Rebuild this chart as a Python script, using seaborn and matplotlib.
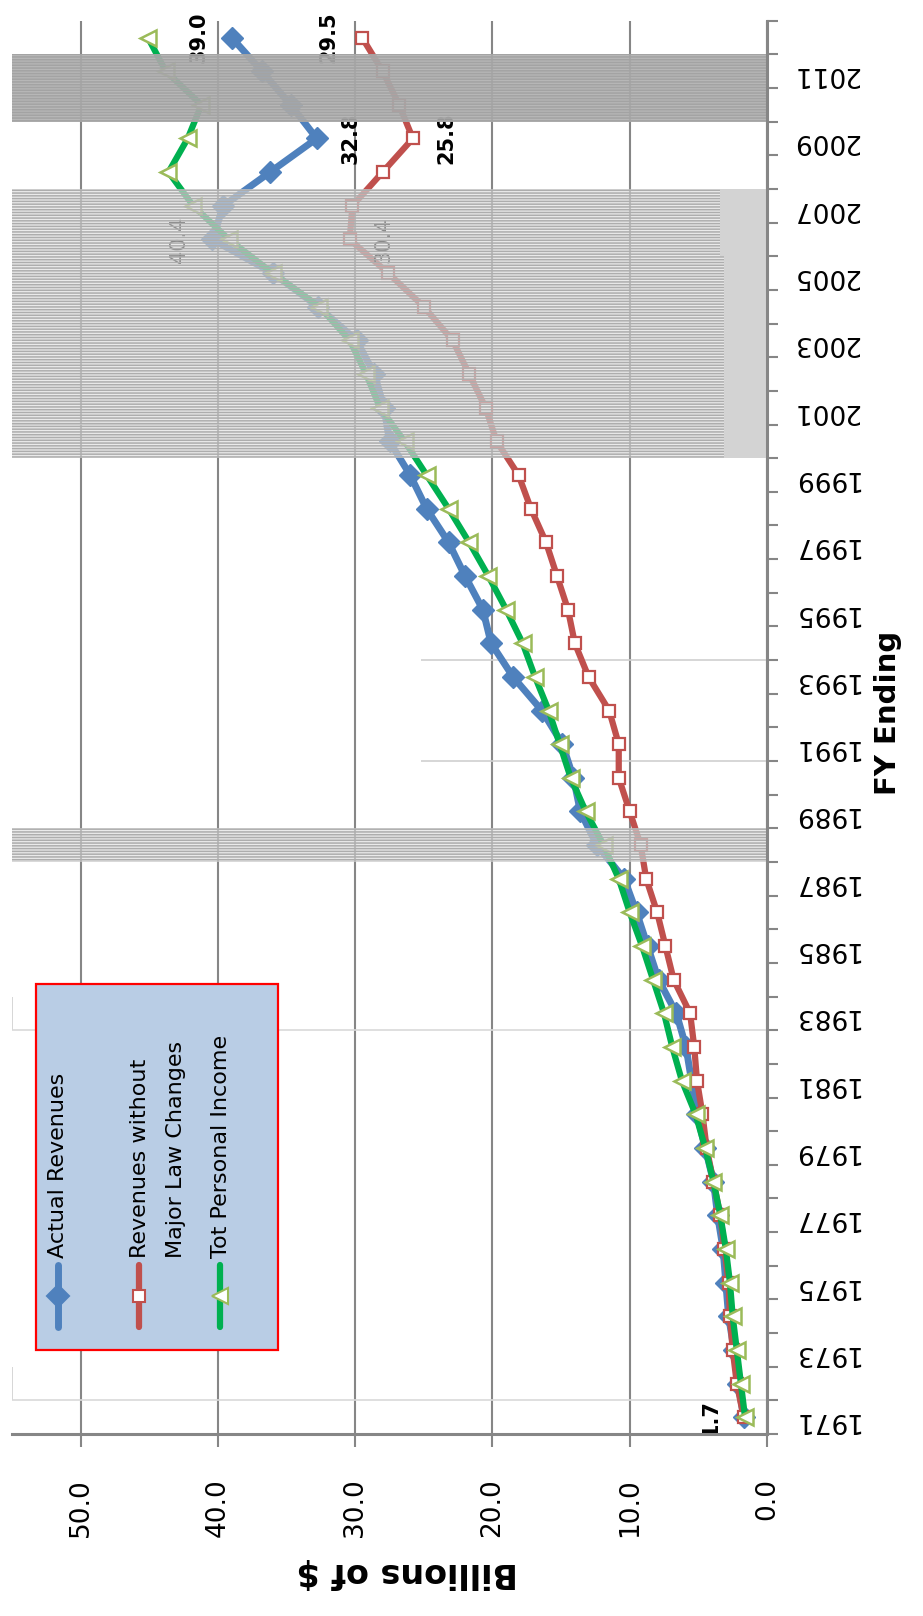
import numpy as np
import pandas as pd
import matplotlib
matplotlib.use("Agg")
import matplotlib.pyplot as plt
from matplotlib.patches import Rectangle
from matplotlib.lines import Line2D
import seaborn as sns

# ---------------- data ----------------
years = list(range(1971, 2013))
actual_revenues = [1.7, 2.1, 2.4, 2.8, 3.0, 3.2, 3.6, 3.9, 4.5, 5.1,
                   5.5, 5.9, 6.6, 7.9, 8.7, 9.5, 10.4, 12.4, 13.6, 14.1,
                   14.9, 16.4, 18.5, 20.1, 20.7, 22.0, 23.2, 24.8, 26.0, 27.5,
                   27.9, 28.6, 29.9, 32.7, 36.0, 40.4, 39.6, 36.2, 32.8, 34.7,
                   36.8, 39.0]
revenues_no_law = [1.7, 2.2, 2.5, 2.7, 2.8, 3.1, 3.4, 3.9, 4.4, 4.7,
                   5.1, 5.3, 5.6, 6.8, 7.4, 8.0, 8.8, 9.2, 10.0, 10.8,
                   10.8, 11.5, 13.0, 14.0, 14.5, 15.3, 16.1, 17.2, 18.1, 19.7,
                   20.5, 21.7, 22.9, 25.0, 27.6, 30.4, 30.2, 28.0, 25.8, 26.8,
                   28.0, 29.5]
personal_income = [1.6, 1.9, 2.2, 2.5, 2.7, 3.0, 3.4, 3.9, 4.5, 5.2,
                    6.2, 6.9, 7.5, 8.3, 9.1, 10.0, 10.8, 11.9, 13.2, 14.3,
                    15.1, 15.9, 16.9, 17.8, 19.0, 20.3, 21.7, 23.2, 24.8, 26.4,
                    28.2, 29.2, 30.4, 32.6, 36.0, 39.2, 41.8, 43.6, 42.2, 41.2,
                    43.8, 45.1]
series_names = ["Actual Revenues", "Revenues without\nMajor Law Changes", "Tot Personal Income"]

# shaded periods (bars on a hidden secondary scale)
shade_years = [1988, 2000, 2001, 2002, 2003, 2004, 2005, 2006, 2007]
shade_floor = [0.0, 3.1, 3.1, 3.1, 3.1, 3.1, 3.1, 3.4, 3.4]
dark_shade_years = [2010, 2011]
outline_years = [1972, 1983]
outline_box_years = [1991, 1992, 1993]
outline_box_value = 25.2
shade_top = 55.0

# data labels: (series index, year, side)
label_points = [(0, 2012, "left"), (1, 2012, "left"), (0, 2009, "right"),
                (1, 2009, "right"), (0, 2006, "left"), (1, 2006, "right"),
                (0, 1971, "left")]

value_ticks = [0, 10, 20, 30, 40, 50]
year_labels = list(range(1971, 2012, 2))

# ---------------- style ----------------
BLUE = "#4F81BD"
RED = "#C0504D"
GREEN = "#00B050"
GREEN_EDGE = "#9BBB59"
GREY = "#868686"

sns.set_theme(style="white")
plt.rcParams["font.family"] = ["DejaVu Sans"]
plt.rcParams["hatch.linewidth"] = 1.1

W, H = 923, 1616
fig = plt.figure(figsize=(W / 100, H / 100), dpi=100)


def fx(px):
    return px / W


def fy(py):
    return 1 - py / H


ax = fig.add_axes([fx(12), fy(1434), fx(767) - fx(12), fy(20.7) - fy(1434)])
ax.set_facecolor("white")

df = pd.DataFrame({"year": years, "actual": actual_revenues,
                   "nolaw": revenues_no_law, "tpi": personal_income})

# faint outline edges
for yr in outline_years:
    ax.vlines(shade_top, yr - 0.5, yr + 0.5, color="#D0D0D0", lw=1.2, zorder=1)
    ax.hlines(yr - 0.5, 0, shade_top, color="#D9D9D9", lw=1.2, zorder=1)
ax.hlines([outline_box_years[0] - 0.5, outline_box_years[-1] + 0.5], 0, outline_box_value,
          color="#CFCFCF", lw=1.2, zorder=1.1)

# lines
sns.lineplot(data=df, x="actual", y="year", orient="y", ax=ax, color=BLUE, lw=5,
             marker="D", markersize=11, mfc=BLUE, mec=BLUE, mew=1, zorder=3)
sns.lineplot(data=df, x="nolaw", y="year", orient="y", ax=ax, color=RED, lw=4.5,
             marker="s", markersize=9, mfc="white", mec=RED, mew=1.6, zorder=3.2)
sns.lineplot(data=df, x="tpi", y="year", orient="y", ax=ax, color=GREEN, lw=4.5,
             marker="<", markersize=12, mfc="white", mec=GREEN_EDGE, mew=1.8, zorder=3.4)

# data labels
series_vals = [actual_revenues, revenues_no_law, personal_income]
for si, yr, side in label_points:
    v = series_vals[si][years.index(yr)]
    dx = -24 if side == "left" else 24
    bold = "bold" if yr != 2006 else "normal"
    ax.annotate(f"{v:.1f}", (v, yr), xytext=(dx, 0), textcoords="offset points",
                rotation=90, ha="center", va="center", fontsize=15,
                fontweight=bold, color="black", zorder=4, annotation_clip=False,
                clip_on=(yr == years[0]))

# shaded bands (on top, striped so the lines show faintly between the stripes)
for yr, fl in zip(shade_years, shade_floor):
    ax.barh(yr, shade_top - fl, left=fl, height=1.0, facecolor=(0.87, 0.87, 0.87, 0.62),
            edgecolor=(0.68, 0.68, 0.68, 1.0), hatch="------", linewidth=0,
            antialiased=False, zorder=5)
    if fl > 0:
        ax.barh(yr, fl, left=0, height=1.0, color="#D3D3D3", linewidth=0,
                antialiased=False, zorder=5)
for yr in dark_shade_years:
    ax.barh(yr, shade_top, left=0, height=1.0, facecolor=(0.68, 0.68, 0.68, 0.88),
            edgecolor=(0.64, 0.64, 0.64, 1.0), hatch="------", linewidth=0,
            antialiased=False, zorder=5)

# axes
ax.set_xlim(55, 0)
ax.set_ylim(1970.5, 2012.5)
ax.set_xlabel("")
ax.set_ylabel("")
ax.set_xticks(value_ticks)
ax.set_xticklabels([f"{v:.1f}" for v in value_ticks], rotation=90)
ax.tick_params(axis="x", bottom=True, length=9, width=1.5, color=GREY,
               pad=23, labelsize=19, labelcolor="black")
ax.xaxis.grid(True, color=GREY, lw=1.5)
ax.yaxis.grid(False)
ax.set_axisbelow(True)

ax.yaxis.tick_right()
ax.set_yticks(np.arange(1970.5, 2013, 1.0))
ax.set_yticklabels([])
ax.set_yticks(year_labels, minor=True)
ax.set_yticklabels([str(y) for y in year_labels], minor=True, rotation=180)
ax.tick_params(axis="y", which="major", right=True, length=8, width=1.5, color=GREY)
ax.tick_params(axis="y", which="minor", right=True, length=0, pad=18,
               labelsize=19, labelcolor="black")

for s in ["top", "left"]:
    ax.spines[s].set_visible(False)
for s in ["right", "bottom"]:
    ax.spines[s].set_color(GREY)
    ax.spines[s].set_linewidth(2.2)
    ax.spines[s].set_zorder(6)

# axis titles
fig.text(fx(407), fy(1573), "Billions of $", rotation=180, ha="center", va="center",
         fontsize=24, fontweight="bold", color="black")
fig.text(fx(888), fy(713), "FY Ending", rotation=90, ha="center", va="center",
         fontsize=21, fontweight="bold", color="black")

# legend (rotated, drawn by hand)
fig.add_artist(Rectangle((fx(36), fy(1350)), fx(278) - fx(36), fy(984) - fy(1350),
                         transform=fig.transFigure, facecolor="#B9CDE5",
                         edgecolor="#FF0000", lw=1.6, zorder=10))
handles = [(58, BLUE, "D", BLUE, BLUE, 11, 5),
           (139, RED, "s", "white", RED, 8, 4.5),
           (220, GREEN, "<", "white", GREEN_EDGE, 11, 4.5)]
for xh, c, m, mfc, mec, ms, lw in handles:
    fig.add_artist(Line2D([fx(xh), fx(xh)], [fy(1265), fy(1327)], transform=fig.transFigure,
                          color=c, lw=lw, solid_capstyle="round", zorder=11))
    fig.add_artist(Line2D([fx(xh)], [fy(1296)], transform=fig.transFigure, marker=m,
                          ms=ms, mfc=mfc, mec=mec, mew=1.5, lw=0, zorder=12))
legend_lines = [(58, series_names[0]),
                (140, series_names[1].split("\n")[0]),
                (176, series_names[1].split("\n")[1]),
                (221, series_names[2])]
for xt, t in legend_lines:
    fig.text(fx(xt), fy(1258), t, rotation=90, rotation_mode="anchor", ha="left",
             va="center", fontsize=16, color="black", zorder=12)

fig.savefig("out.png", dpi=100)
